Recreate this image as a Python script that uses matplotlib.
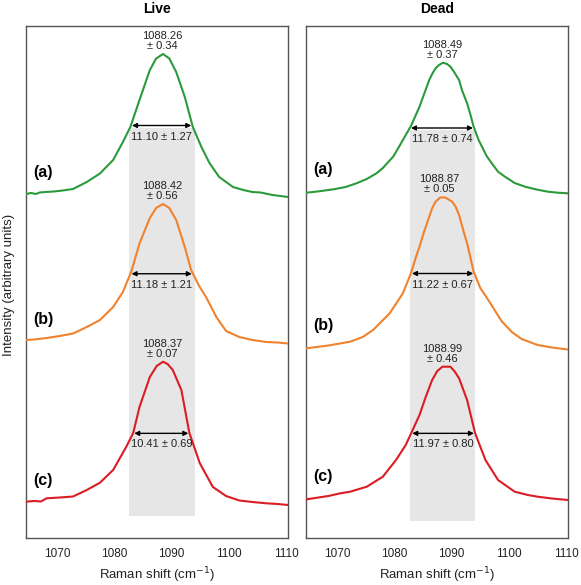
import numpy as np
import matplotlib
matplotlib.use("Agg")
import matplotlib.pyplot as plt

plt.rcParams['font.family'] = ['Liberation Sans', 'DejaVu Sans']

# --- Live: Raman shift (cm-1) / intensity (a.u., offset) ---
live_a_x = [1064.6, 1065.5, 1066.3, 1067.0, 1068.0, 1069.4, 1071.0, 1072.8, 1075.2, 1077.5,
            1079.8, 1081.5, 1082.8, 1084.4, 1086.2, 1087.3, 1088.5, 1089.6, 1090.8, 1092.3,
            1093.7, 1095.2, 1096.6, 1098.3, 1100.7, 1102.5, 1104.1, 1105.5, 1107.6, 1110.3]
live_a_y = [344, 345, 344, 345.5, 346, 346.5, 347.5, 349, 356, 364.5,
            378, 396, 411, 438, 468, 479.5, 484, 479.5, 466, 441,
            411, 391, 375, 361, 351, 348, 346, 345.5, 343, 341]

live_b_x = [1064.6, 1066.0, 1068.2, 1070.5, 1072.8, 1075.2, 1077.5, 1079.8, 1081.5, 1083.0,
            1084.4, 1086.2, 1087.3, 1088.5, 1089.6, 1090.8, 1092.3, 1093.4, 1094.8, 1096.0,
            1097.8, 1099.5, 1101.8, 1104.1, 1106.5, 1108.5, 1110.3]
live_b_y = [198, 198.5, 200, 202, 204.5, 211, 218, 231, 246, 267,
            294.5, 320, 330, 334, 330, 318, 291, 268, 252, 241,
            221, 207, 201, 198, 196, 195.5, 194.5]

live_c_x = [1064.6, 1066.0, 1067.2, 1068.2, 1070.5, 1072.8, 1075.2, 1077.5, 1079.8, 1082.1,
            1083.3, 1084.4, 1086.2, 1087.4, 1088.5, 1089.3, 1090.2, 1091.7, 1093.1, 1094.9,
            1097.2, 1099.5, 1101.8, 1104.1, 1106.5, 1108.5, 1110.3]
live_c_y = [36.3, 37, 36.5, 39.7, 40.5, 41.5, 48, 55.3, 68, 91.3,
            105, 131, 161, 172, 176.3, 174, 168, 148, 105, 75,
            51, 42, 37.5, 36, 34.7, 34, 33]

# --- Dead ---
dead_a_x = [1064.7, 1067.0, 1069.4, 1071.5, 1073.4, 1075.2, 1076.9, 1078.0, 1079.8, 1080.6,
            1081.5, 1082.9, 1084.4, 1085.2, 1086.1, 1086.6, 1087.2, 1087.8, 1088.5, 1089.2,
            1089.8, 1090.4, 1091.3, 1091.8, 1092.7, 1093.3, 1093.8, 1094.7, 1095.3, 1096.1,
            1097.0, 1098.1, 1099.3, 1101.0, 1102.8, 1104.8, 1106.8, 1108.5, 1110.3]
dead_a_y = [345.3, 346.8, 348.7, 351, 354.7, 359, 364.7, 370, 381.3, 389,
            398, 412, 431.3, 444, 458, 464, 469.7, 473, 475.3, 474,
            471.3, 466.3, 458, 448, 434.7, 423, 412, 398, 391.3, 382,
            374.7, 366.3, 361.3, 355, 351.3, 348.5, 346.3, 345.3, 344.7]

dead_b_x = [1064.7, 1068.5, 1072.3, 1074.5, 1076.3, 1079.2, 1081.5, 1082.9, 1083.8, 1084.4,
            1085.2, 1086.1, 1086.6, 1087.2, 1088.0, 1088.9, 1090.1, 1090.7, 1091.3, 1092.1,
            1092.7, 1093.3, 1093.8, 1095.0, 1096.4, 1098.7, 1100.5, 1102.2, 1105.0, 1107.5,
            1110.3]
dead_b_y = [189.7, 192.5, 196.3, 201, 208, 224.7, 244.7, 264.7, 281.3, 291.3,
            306.3, 321.3, 329.7, 336.3, 340.5, 340.5, 336.3, 331.3, 323, 306.3,
            294.7, 280, 267, 250, 238, 217, 206, 199, 193, 190.5,
            188.5]

dead_c_x = [1064.7, 1068.5, 1070.6, 1072.3, 1075.2, 1078.0, 1080.3, 1082.0, 1083.2, 1084.4,
            1085.5, 1086.6, 1087.5, 1088.4, 1089.8, 1090.6, 1091.3, 1092.7, 1094.1, 1095.9,
            1098.1, 1101.0, 1103.3, 1105.0, 1107.5, 1110.3]
dead_c_y = [38.7, 42, 44.7, 46.3, 51.3, 61.3, 78, 93, 108, 123,
            141.3, 158, 167, 171.3, 171.3, 166, 159.7, 138, 104.7, 78,
            58, 46.3, 43, 41.3, 39.5, 38]

live_peak = ["1088.26", "1088.42", "1088.37"]
live_peak_err = ["0.34", "0.56", "0.07"]
live_fwhm = ["11.10", "11.18", "10.41"]
live_fwhm_err = ["1.27", "1.21", "0.69"]

dead_peak = ["1088.49", "1088.87", "1088.99"]
dead_peak_err = ["0.37", "0.05", "0.46"]
dead_fwhm = ["11.78", "11.22", "11.97"]
dead_fwhm_err = ["0.74", "0.67", "0.80"]

live_band = [1082.5, 1094.0, 22]
dead_band = [1082.75, 1094.1, 17]

curve_labels = ["(a)", "(b)", "(c)"]
colors = ["#2b9a3c", "#f0822d", "#dc1c24"]
xticks = [1070, 1080, 1090, 1100, 1110]

panels = [
    ("Live", [(live_a_x, live_a_y), (live_b_x, live_b_y), (live_c_x, live_c_y)],
     live_peak, live_peak_err, live_fwhm, live_fwhm_err, live_band),
    ("Dead", [(dead_a_x, dead_a_y), (dead_b_x, dead_b_y), (dead_c_x, dead_c_y)],
     dead_peak, dead_peak_err, dead_fwhm, dead_fwhm_err, dead_band),
]

fig = plt.figure(figsize=(5.81, 5.85), dpi=100)
W, H = 581, 585
lefts = [26, 306]

for k, (title, curves, peak, perr, fwhm, ferr, band) in enumerate(panels):
    ax = fig.add_axes([lefts[k] / W, 1 - 538 / H, 262 / W, 512 / H])
    ax.set_xlim(1064.6, 1110.3)
    ax.set_ylim(0, 512)

    # grey band, top at half max of the upper curve
    top_y = np.array(curves[0][1])
    band_top = (top_y.max() + top_y.min()) / 2 - 2
    ax.fill_between([band[0], band[1]], band[2], band_top, color="#e6e6e6", lw=0, zorder=0)

    for i, (xs, ys) in enumerate(curves):
        xs = np.array(xs)
        ys = np.array(ys)
        ax.plot(xs, ys, color=colors[i], lw=1.5, zorder=3, solid_joinstyle="round")

        imax = int(np.argmax(ys))
        half = (ys.max() + ys.min()) / 2
        # crossings of the half maximum on each flank
        x_left = np.interp(half, ys[:imax + 1], xs[:imax + 1])
        x_right = np.interp(half, ys[imax:][::-1], xs[imax:][::-1])
        ax.annotate("", xy=(x_right - 0.2, half), xytext=(x_left + 0.2, half),
                    arrowprops=dict(arrowstyle="<|-|>", color="black", lw=1,
                                    mutation_scale=7, shrinkA=0, shrinkB=0),
                    zorder=4)
        ax.text((x_left + x_right) / 2, half - 6, f"{fwhm[i]} \u00b1 {ferr[i]}",
                ha="center", va="top", fontsize=8, color="#222222")
        ax.text(xs[imax] - 0.1, ys.max() + 3, f"{peak[i]}\n\u00b1 {perr[i]}",
                ha="center", va="bottom", fontsize=8, linespacing=1.0, color="#222222")
        ax.text(1065.8, ys.min() + 24, curve_labels[i], ha="left", va="center",
                fontsize=11.5, fontweight="bold")

    ax.set_xticks(xticks)
    ax.set_yticks([])
    ax.tick_params(axis="x", length=0, pad=7, labelsize=8.5, colors="#222222")
    for s in ax.spines.values():
        s.set_color("#555555")
        s.set_linewidth(1)
    ax.set_xlabel("Raman shift (cm$^{-1}$)", fontsize=9.5, labelpad=4, color="#222222")
    ax.text(0.5, 1 + 17 / 512, title, transform=ax.transAxes, ha="center", va="center",
            fontsize=10, fontweight="bold")

fig.text(9 / W, 1 - 285 / H, "Intensity (arbitrary units)", rotation=90,
         ha="center", va="center", fontsize=9.5, color="#222222")

fig.savefig("out.png", dpi=100)
